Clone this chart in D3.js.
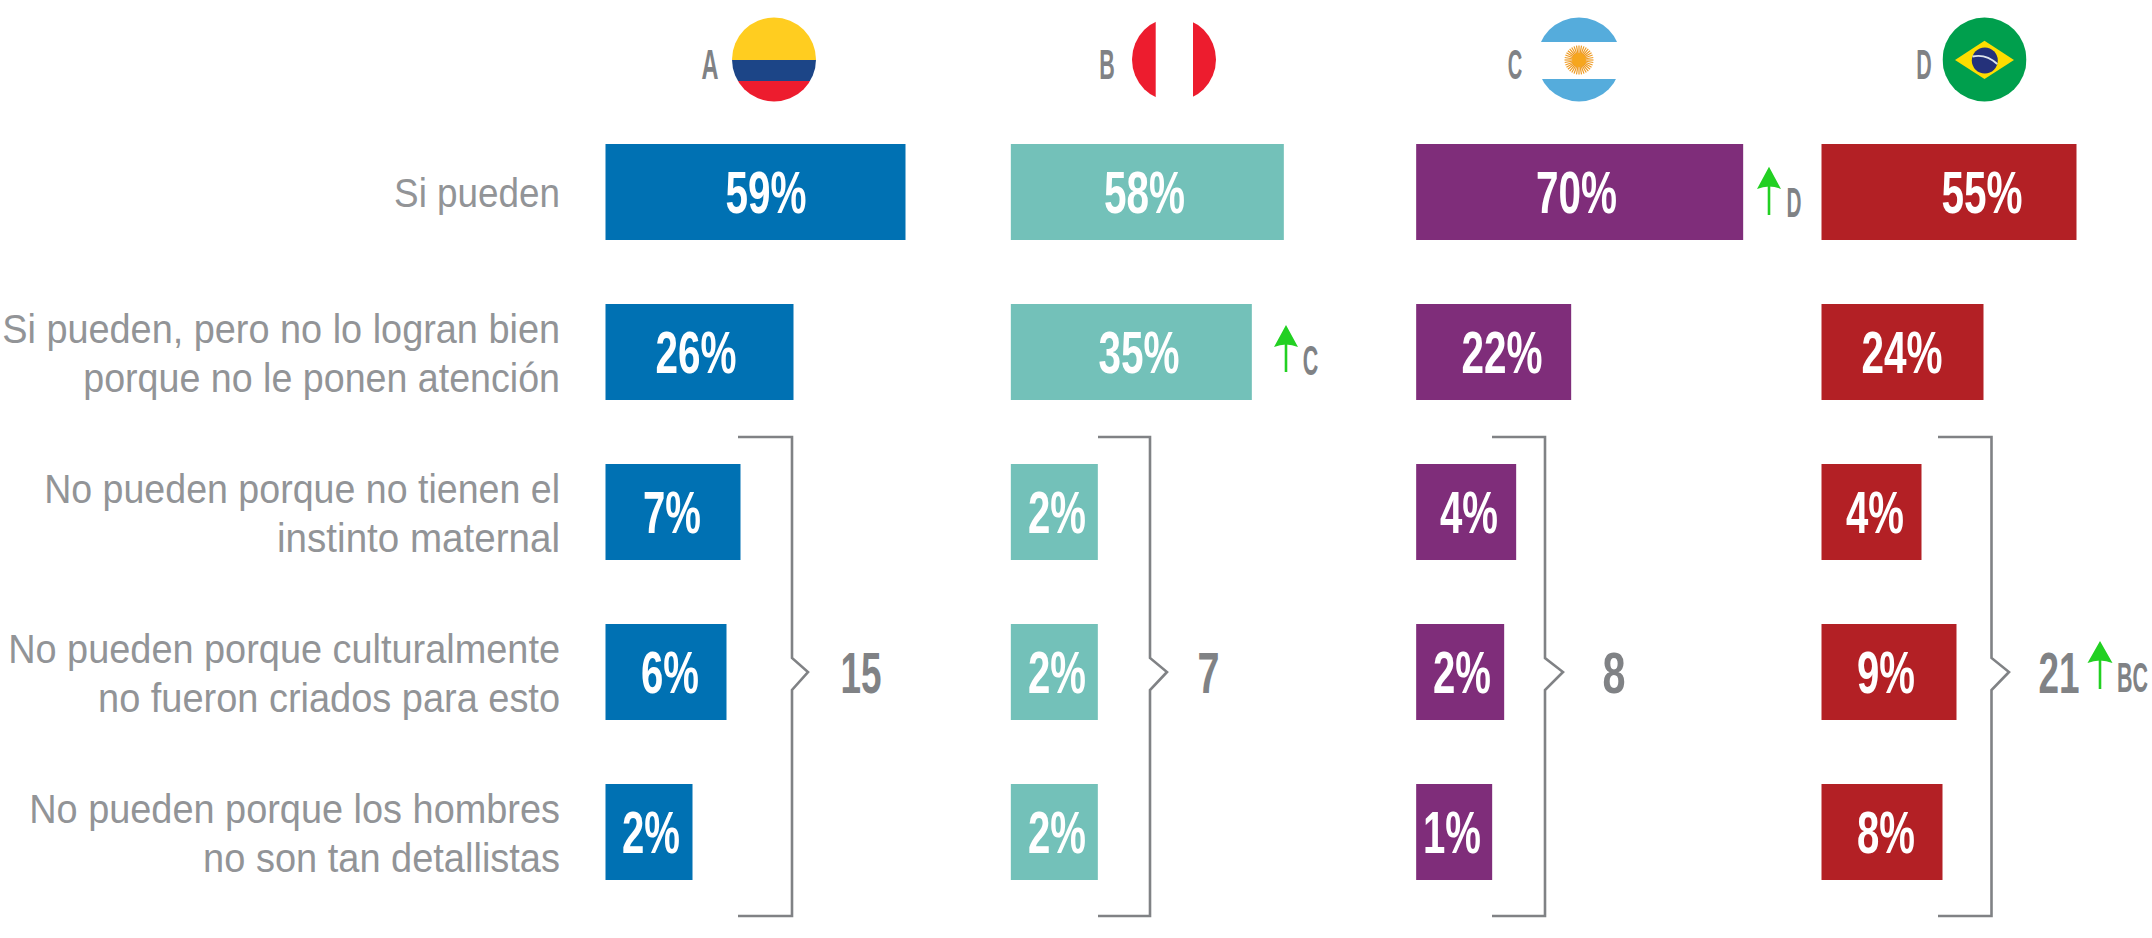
<!DOCTYPE html>
<html><head><meta charset="utf-8">
<script src="https://cdn.jsdelivr.net/npm/d3@7"></script>
<style>html,body{margin:0;padding:0;background:#fff}svg{display:block}</style>
</head><body><div id="c"></div>
<script>
// Data ------------------------------------------------------------
const groups = ["A","B","C","D"];
const categories = [
  ["Si pueden"],
  ["Si pueden, pero no lo logran bien","porque no le ponen atención"],
  ["No pueden porque no tienen el","instinto maternal"],
  ["No pueden porque culturalmente","no fueron criados para esto"],
  ["No pueden porque los hombres","no son tan detallistas"]
];
// printed percentages
const seriesA = [59,26,7,6,2];
const seriesB = [58,35,2,2,2];
const seriesC = [70,22,4,2,1];
const seriesD = [55,24,4,9,8];
// drawn bar lengths (they do not follow the printed numbers linearly)
const drawnA = [60,37.6,27,24.2,17.4];
const drawnB = [54.6,48.2,17.4,17.4,17.4];
const drawnC = [65.4,31,20,17.6,15.2];
const drawnD = [51,32.4,20,27,24.2];
const totals = [15,7,8,21];
const totalSig = ["","","","BC"];
const barSig = [{g:"C",row:0,t:"D"},{g:"B",row:1,t:"C"}];

// Layout ----------------------------------------------------------
const W=2152,H=938, GREY="#808285", GREEN="#22d022";
const colors={A:"#0071b3",B:"#73c1b9",C:"#7f2d7a",D:"#b32025"};
const series={A:seriesA,B:seriesB,C:seriesC,D:seriesD};
const drawn={A:drawnA,B:drawnB,C:drawnC,D:drawnD};
const labelCentre={A:[766,696,672,670,651],B:[1144.5,1139,1057,1057,1057],C:[1576.5,1502,1469,1462,1452],D:[1982,1902,1875,1886,1886]};
const x0=d3.scalePoint().domain(groups).range([605.5,1821.5]);
const y=d3.scaleBand().domain(d3.range(5)).range([144,880]).paddingInner(0.4);
const len=d3.scaleLinear().domain([0,100]).range([0,500]);

const svg=d3.select("#c").append("svg").attr("width",W).attr("height",H).attr("viewBox",[0,0,W,H]);
const NARROW="'Liberation Sans Narrow','Liberation Sans',Arial,sans-serif";

// squeezes a text horizontally to the width it has in the picture
function fit(t,x,base,w){
  const natural=t.node().getComputedTextLength();
  return t.attr("transform",`translate(${x},${base}) scale(${w/natural},1)`);
}
function condensed(g,str,cx,base,size,w,fill){
  const t=g.append("text").text(str).attr("text-anchor","middle")
    .attr("font-family",NARROW).attr("font-weight",700).attr("font-size",size).attr("fill",fill);
  return fit(t,cx,base,w);
}

// Category labels
const catG=svg.append("g");
const lineWidths=[[166],[558,477],[516,283],[552,462],[531,357]];
categories.forEach((lines,i)=>{
  const c=y(i)+y.bandwidth()/2;
  lines.forEach((l,j)=>{
    const base=lines.length===1?c+15:c-9+j*49;
    const t=catG.append("text").text(l).attr("text-anchor","end")
      .attr("font-family","'Liberation Sans',Arial,sans-serif").attr("font-size",41)
      .attr("fill","#929497");
    fit(t,560,base,lineWidths[i][j]);
  });
});

// Bars and value labels
groups.forEach(g=>{
  const gg=svg.append("g");
  gg.selectAll("rect").data(drawn[g]).join("rect")
    .attr("x",x0(g)).attr("y",(d,i)=>y(i)).attr("height",y.bandwidth())
    .attr("width",d=>len(d)).attr("fill",colors[g]);
  series[g].forEach((v,i)=>{
    condensed(gg,v+"%",labelCentre[g][i],y(i)+y.bandwidth()/2+21,60,String(v).length===2?81:58,"#fff");
  });
});

// Group letters and flags
const letterX={A:710,B:1107,C:1515,D:1924};
const flagX={A:774,B:1174,C:1579,D:1984.5};
const fy=59.5,fr=42;
const defs=svg.append("defs");
groups.forEach(g=>{
  condensed(svg,g,letterX[g],79,42,{A:17,B:15.5,C:14.5,D:15.5}[g],GREY);
  defs.append("clipPath").attr("id","clip"+g).append("circle").attr("cx",flagX[g]).attr("cy",fy).attr("r",fr);
});
const band=(g,col,y1,y2)=>svg.append("rect").attr("clip-path",`url(#clip${g})`)
  .attr("x",flagX[g]-fr).attr("width",2*fr).attr("y",y1).attr("height",y2-y1).attr("fill",col);
band("A","#ffcd20",17,60); band("A","#1c4587",60,81); band("A","#ed1c2e",81,102);
svg.append("rect").attr("clip-path","url(#clipB)").attr("x",flagX.B-fr).attr("y",17).attr("width",23.7).attr("height",85).attr("fill","#ed1c2e");
svg.append("rect").attr("clip-path","url(#clipB)").attr("x",1193).attr("y",17).attr("width",24).attr("height",85).attr("fill","#ed1c2e");
band("C","#55acdc",17,42); band("C","#55acdc",79,102);
const sun=svg.append("g").attr("transform",`translate(${flagX.C},60)`);
d3.range(36).forEach(i=>{
  const a=i/36*2*Math.PI;
  sun.append("line").attr("x2",14.5*Math.cos(a)).attr("y2",14.5*Math.sin(a)).attr("stroke","#ee9a22").attr("stroke-width",1.2);
});
sun.append("circle").attr("r",7).attr("fill","#f6a61e");
band("D","#009f4d",17,102);
svg.append("path").attr("d",`M1955 60L1984.5 40.7L2014 60L1984.5 79Z`).attr("fill","#fedd00");
svg.append("circle").attr("cx",1984.8).attr("cy",60.5).attr("r",13).attr("fill","#24317a");
svg.append("path").attr("d","M1972.5 56.5Q1986 53.5 1997.3 64").attr("fill","none").attr("stroke","#dfe6ee").attr("stroke-width",1.8);

// Brackets and totals
const br={A:[738,792,808],B:[1098,1150,1167],C:[1492,1545,1563],D:[1938,1991.5,2009]};
const totalX={A:[861,41],B:[1208.5,22],C:[1614,23],D:[2059,41]};
groups.forEach((g,i)=>{
  const [a,b,t]=br[g];
  const p=d3.path();
  p.moveTo(a,437);p.lineTo(b,437);p.lineTo(b,658);p.lineTo(t,672);p.lineTo(b,690);p.lineTo(b,916);p.lineTo(a,916);
  svg.append("path").attr("d",p.toString()).attr("fill","none").attr("stroke",GREY).attr("stroke-width",2.6);
  condensed(svg,String(totals[i]),totalX[g][0],693,58,totalX[g][1],GREY);
});

// Significance arrows
function arrow(cx,top,bot,hb,hw){
  svg.append("line").attr("x1",cx).attr("x2",cx).attr("y1",top+6).attr("y2",bot).attr("stroke",GREEN).attr("stroke-width",2.6);
  svg.append("path").attr("d",`M${cx} ${top}L${cx+hw} ${hb}Q${cx} ${hb-5} ${cx-hw} ${hb}Z`).attr("fill",GREEN);
}
const sigPos={C0:[1769,166.7,215,189,12,1794,217,15],B1:[1286,325,372,347,12,1310.5,375,15.5]};
barSig.forEach(s=>{
  const p=sigPos[s.g+s.row];
  arrow(p[0],p[1],p[2],p[3],p[4]);
  condensed(svg,s.t,p[5],p[6],42,p[7],GREY);
});
arrow(2100,641,689,663,12.5);
condensed(svg,totalSig[3],2132.5,692,42,31,GREY);
</script></body></html>
